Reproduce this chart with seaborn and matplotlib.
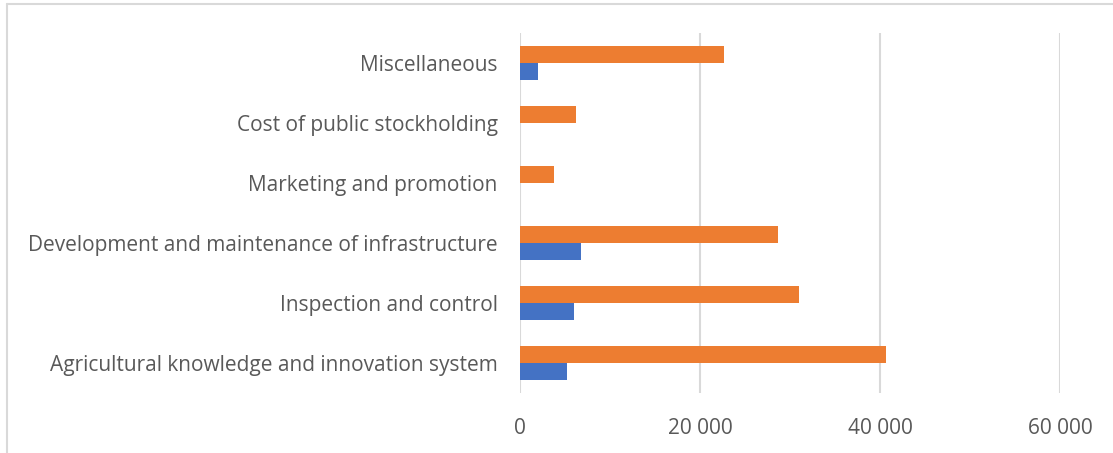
import matplotlib
matplotlib.use("Agg")
import matplotlib.pyplot as plt
from matplotlib.lines import Line2D
import seaborn as sns
import pandas as pd

categories = [
    "Miscellaneous",
    "Cost of public stockholding",
    "Marketing and promotion",
    "Development and maintenance of infrastructure",
    "Inspection and control",
    "Agricultural knowledge and innovation system",
]
series_blue = [2000, 0, 0, 6800, 6000, 5200]
series_orange = [22700, 6200, 3800, 28700, 31000, 40700]
series_names = ["Series 2", "Series 1"]
xticks = [0, 20000, 40000, 60000]
xtick_labels = ["0", "20 000", "40 000", "60 000"]

df = pd.DataFrame({
    "category": categories * 2,
    "value": series_orange + series_blue,
    "series": [series_names[0]] * len(categories) + [series_names[1]] * len(categories),
})

sns.set_theme(style="white")
plt.rcParams["font.family"] = ["Open Sans", "DejaVu Sans"]

fig = plt.figure(figsize=(11.13, 4.53), dpi=100)
ax = fig.add_axes([520 / 1113, 1 - 393 / 453, 540 / 1113, 360 / 453])

sns.barplot(
    data=df, x="value", y="category", hue="series", orient="h",
    order=categories, hue_order=series_names,
    palette={series_names[0]: "#ED7D31", series_names[1]: "#4472C4"},
    width=0.58, saturation=1, legend=False, linewidth=0, ax=ax,
)

ax.set_xlim(0, 60000)
ax.set_xticks(xticks)
ax.set_xticklabels(xtick_labels)
ax.set_xlabel("")
ax.set_ylabel("")
ax.grid(axis="x", color="#d9d9d9", linewidth=1.5)
ax.set_axisbelow(True)
for s in ax.spines.values():
    s.set_visible(False)
ax.tick_params(axis="x", length=0, pad=18, labelsize=15, labelcolor="#595959")
ax.tick_params(axis="y", length=0, pad=16, labelsize=15, labelcolor="#595959")

# chart frame
fig.add_artist(Line2D([7 / 1113, 7 / 1113], [0, 1 - 4 / 453], color="#d9d9d9", lw=1.5, transform=fig.transFigure))
fig.add_artist(Line2D([7 / 1113, 1], [1 - 4 / 453, 1 - 4 / 453], color="#d9d9d9", lw=1.5, transform=fig.transFigure))

fig.savefig("out.png", dpi=100)
